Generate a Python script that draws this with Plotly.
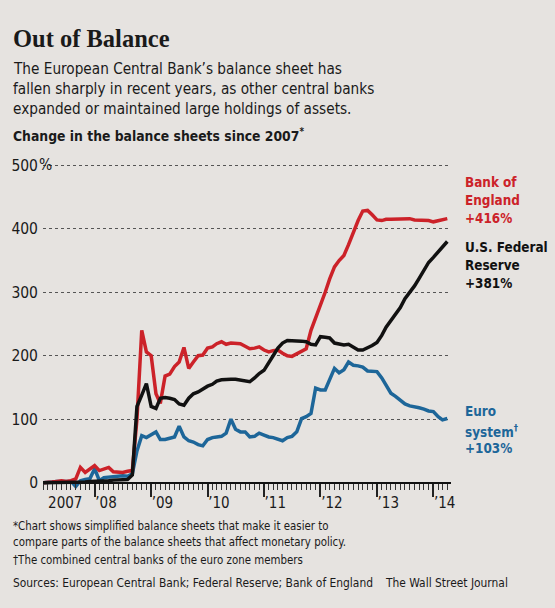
import pandas as pd
import plotly.graph_objects as go

# monthly readings, Feb 2007 .. Apr 2014 (% change since 2007)
months = pd.date_range("2007-02-01", "2014-04-01", freq="MS")

bank_of_england = [
    0, 0, 1, 2, 3, 2, 3, 6, 24, 16, 22,
    27, 19, 21, 24, 17, 17, 16, 18, 19, 100, 240, 206,
    200, 140, 125, 168, 171, 183, 190, 213, 180, 190, 200, 201,
    212, 214, 219, 222, 218, 220, 220, 219, 215, 211, 212, 214,
    209, 206, 208, 209, 204, 200, 199, 203, 206, 211, 240, 259,
    282, 300, 321, 340, 350, 358, 375, 395, 413, 428, 429, 422,
    414, 413, 415, 415, 415, 416, 416, 416, 414, 414, 414, 413,
    411, 413, 415, 416,
]

federal_reserve = [
    0, 0, 0, 0, 0, 1, 1, 1, 1, 1, 2,
    2, 2, 3, 3, 4, 4, 4, 5, 12, 120, 138, 156,
    120, 117, 133, 134, 133, 131, 124, 122, 133, 140, 143, 148,
    152, 155, 160, 162, 163, 163, 163, 162, 161, 159, 165, 172,
    177, 190, 200, 212, 220, 224, 224, 223, 223, 222, 218, 217,
    230, 229, 228, 220, 218, 217, 218, 213, 209, 209, 212, 216,
    221, 232, 245, 256, 266, 276, 290, 300, 310, 322, 336, 347,
    355, 363, 370, 380,
]

eurosystem = [
    0, 0, 1, 2, 2, 1, 2, -6, 3, 5, 6,
    22, 3, 8, 9, 10, 10, 11, 10, 14, 50, 74, 71,
    76, 80, 68, 68, 70, 72, 89, 72, 66, 64, 60, 58,
    68, 71, 72, 73, 78, 100, 84, 80, 80, 72, 73, 78,
    75, 72, 71, 68, 66, 71, 73, 80, 101, 104, 109, 149,
    146, 146, 162, 180, 173, 178, 190, 185, 184, 182, 176, 176,
    175, 165, 154, 141, 136, 130, 124, 121, 120, 118, 116, 113,
    112, 104, 99, 101,
]

y_ticks = [0, 100, 200, 300, 400, 500]
year_ticks = ["2008-01-01", "2009-01-01", "2010-01-01", "2011-01-01",
              "2012-01-01", "2013-01-01", "2014-01-01"]
year_label_pos = ["2007-06-25", "2008-03-15", "2009-03-15", "2010-03-15",
                  "2011-03-15", "2012-03-15", "2013-03-15", "2014-03-15"]
year_labels = ["2007", "\u201908", "\u201909", "\u201910", "\u201911",
               "\u201912", "\u201913", "\u201914"]

RED = "#cc2229"
BLUE = "#1d6699"
BLACK = "#111111"
BG = "#e6e3e0"
TXT = "#1a1a1a"

NARROW = "DejaVu Sans Condensed, DejaVu Sans, sans-serif"
SERIF = "Liberation Serif, DejaVu Serif, serif"

W, H = 555, 608
PL, PR, PT, PB = 42.7, 450.7, 158.6, 489.4
X_RANGE = ["2007-02-01", "2014-04-25"]


def px(x):
    return (x - PL) / (PR - PL)


def py(y):
    return (PB - y) / (PB - PT)


def text_line(fig, text, x, baseline, size, color=TXT, bold=False, family=NARROW, anchor="left"):
    if bold:
        text = "<b>" + text + "</b>"
    fig.add_annotation(
        text=text, xref="paper", yref="paper",
        x=px(x), y=py(baseline - 0.36 * size),
        xanchor=anchor, yanchor="middle", showarrow=False,
        font=dict(family=family, size=size, color=color),
    )


def main():
    fig = go.Figure()

    for vals, col in [(eurosystem, BLUE), (bank_of_england, RED), (federal_reserve, BLACK)]:
        fig.add_trace(go.Scatter(
            x=months, y=vals, mode="lines",
            line=dict(color=col, width=3.5, shape="linear"),
            showlegend=False, hoverinfo="skip",
        ))

    zero_pos = 10 / 520

    fig.update_layout(
        width=W, height=H,
        margin=dict(l=PL, r=W - PR, t=PT, b=H - PB, pad=0),
        paper_bgcolor=BG, plot_bgcolor=BG,
        xaxis=dict(
            type="date", range=X_RANGE, anchor="free", position=zero_pos,
            showline=True, linecolor=BLACK, linewidth=2,
            ticks="outside", tickvals=year_ticks, ticklen=13, tickwidth=1.5,
            tickcolor="#222222", showticklabels=False, showgrid=False, zeroline=False,
            minor=dict(ticks="outside", dtick="M1", tick0="2007-02-01",
                       ticklen=6, tickwidth=1, tickcolor="#333333", showgrid=False),
        ),
        xaxis2=dict(
            type="date", range=X_RANGE, overlaying="x", anchor="free", position=zero_pos,
            side="bottom", showline=False, ticks="", showgrid=False, zeroline=False,
            tickvals=year_label_pos, ticktext=year_labels, ticklabelstandoff=9,
            tickfont=dict(family=NARROW, size=15, color=TXT),
        ),
        yaxis=dict(
            range=[-10, 510], tickvals=y_ticks, ticktext=[str(v) for v in y_ticks],
            showgrid=True, gridcolor="#555555", gridwidth=1, griddash="dot",
            zeroline=False, showline=False, ticks="", ticklabelstandoff=4,
            tickfont=dict(family=NARROW, size=15.5, color=TXT),
        ),
    )
    fig.add_trace(go.Scatter(x=[X_RANGE[0]], y=[0], xaxis="x2", mode="markers",
                             marker=dict(opacity=0), showlegend=False, hoverinfo="skip"))

    fig.add_annotation(text="%", xref="paper", yref="y", x=0, y=500, xanchor="left",
                       yanchor="middle", xshift=-6, showarrow=False,
                       font=dict(family=NARROW, size=15.5, color=TXT))

    text_line(fig, "Out of Balance", 11, 47, 24.5, bold=True, family=SERIF)
    text_line(fig, "The European Central Bank\u2019s balance sheet has", 11, 74, 15.2)
    text_line(fig, "fallen sharply in recent years, as other central banks", 11, 94, 15.2)
    text_line(fig, "expanded or maintained large holdings of assets.", 11, 114, 15.2)
    text_line(fig, "Change in the balance sheets since 2007<sup>*</sup>", 11, 140, 13.8, bold=True)

    text_line(fig, "Bank of", 463, 187, 13.4, RED, True)
    text_line(fig, "England", 463, 205, 13.4, RED, True)
    text_line(fig, "+416%", 463, 223, 13.4, RED, True)
    text_line(fig, "U.S. Federal", 463, 252, 13.4, BLACK, True)
    text_line(fig, "Reserve", 463, 270, 13.4, BLACK, True)
    text_line(fig, "+381%", 463, 288, 13.4, BLACK, True)
    text_line(fig, "Euro", 463, 417, 13.4, BLUE, True)
    text_line(fig, "system<sup>\u2020</sup>", 463, 436, 13.4, BLUE, True)
    text_line(fig, "+103%", 463, 454, 13.4, BLUE, True)

    text_line(fig, "*Chart shows simplified balance sheets that make it easier to", 11, 531, 11.4)
    text_line(fig, "compare parts of the balance sheets that affect monetary policy.", 11, 547, 11.4)
    text_line(fig, "\u2020The combined central banks of the euro zone members", 11, 565, 11.4)
    text_line(fig, "Sources: European Central Bank; Federal Reserve; Bank of England", 11, 588, 11.9)
    text_line(fig, "The Wall Street Journal", 510, 588, 11.9, anchor="right")

    # the page's default 8px body margin would push the chart off the window
    fig.write_html("out.html", config={"displayModeBar": False},
                   post_script="document.body.style.margin = '0';")


if __name__ == "__main__":
    main()
